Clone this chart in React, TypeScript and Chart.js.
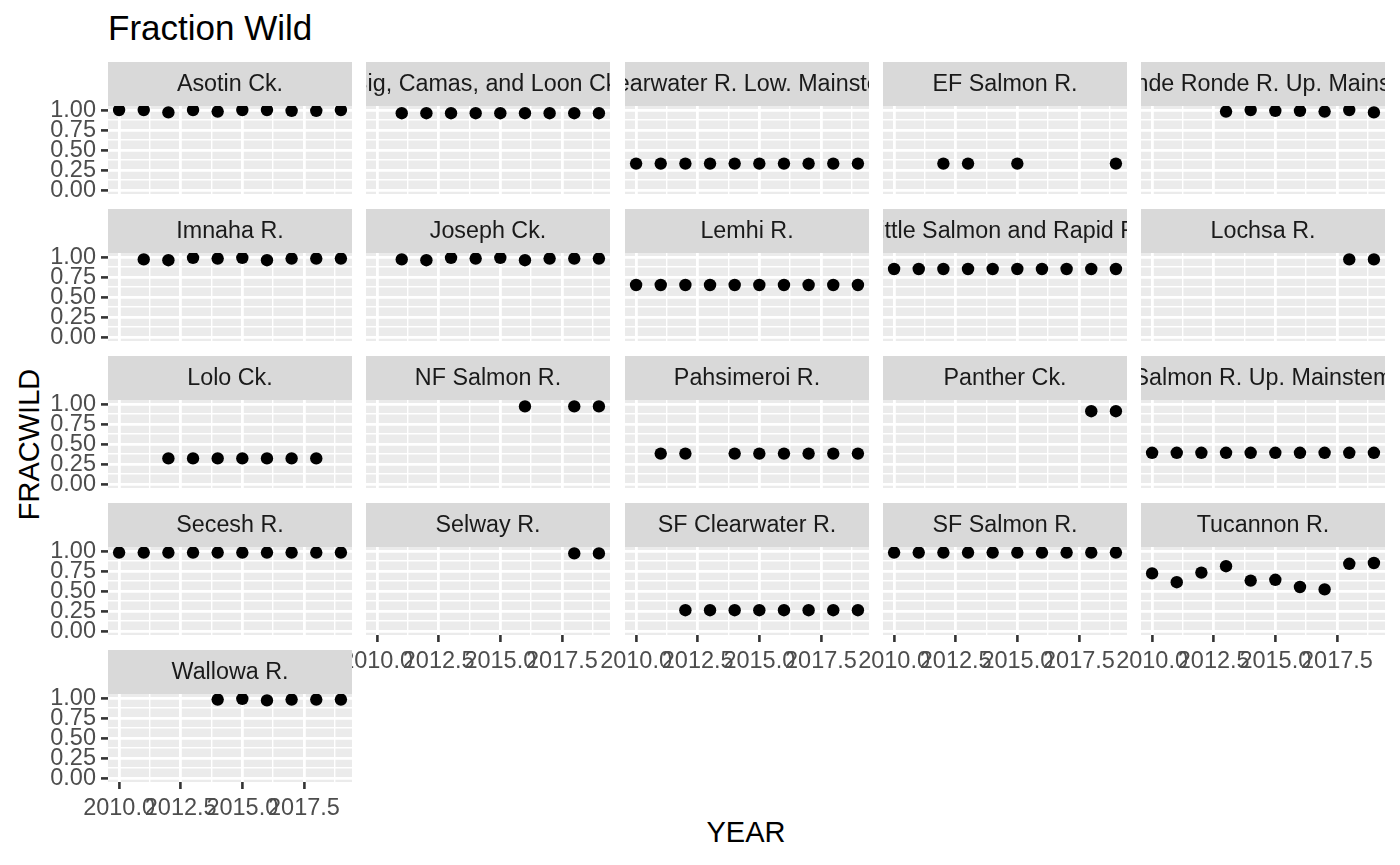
import React, { useEffect, useRef } from "react";
import { Chart, registerables } from "chart.js";

Chart.register(...registerables);

// ---------------- data ----------------
const TITLE = "Fraction Wild";
const X_LABEL = "YEAR";
const Y_LABEL = "FRACWILD";

const YEARS = [2010, 2011, 2012, 2013, 2014, 2015, 2016, 2017, 2018, 2019];
const X_MAJOR = [2010, 2012.5, 2015, 2017.5];
const X_MINOR = [2011.25, 2013.75, 2016.25, 2018.75];
const Y_MAJOR = [0, 0.25, 0.5, 0.75, 1];
const Y_MINOR = [0.125, 0.375, 0.625, 0.875];

const FACETS = [
  "Asotin Ck.",
  "Big, Camas, and Loon Ck.",
  "Clearwater R. Low. Mainstem",
  "EF Salmon R.",
  "Grande Ronde R. Up. Mainstem",
  "Imnaha R.",
  "Joseph Ck.",
  "Lemhi R.",
  "Little Salmon and Rapid R.",
  "Lochsa R.",
  "Lolo Ck.",
  "NF Salmon R.",
  "Pahsimeroi R.",
  "Panther Ck.",
  "Salmon R. Up. Mainstem",
  "Secesh R.",
  "Selway R.",
  "SF Clearwater R.",
  "SF Salmon R.",
  "Tucannon R.",
  "Wallowa R.",
];

// values by YEARS (null = no observation)
const asotin = [1.0, 1.0, 0.97, 1.0, 0.98, 1.0, 1.0, 0.99, 0.99, 1.0];
const bigCamasLoon = [null, 0.96, 0.96, 0.96, 0.96, 0.96, 0.96, 0.96, 0.96, 0.96];
const clearwaterLow = [0.33, 0.33, 0.33, 0.33, 0.33, 0.33, 0.33, 0.33, 0.33, 0.33];
const efSalmon = [null, null, 0.33, 0.33, null, 0.33, null, null, null, 0.33];
const grandeRonde = [null, null, null, 0.98, 1.0, 0.99, 0.99, 0.98, 1.0, 0.97];
const imnaha = [null, 0.97, 0.96, 0.99, 0.98, 0.99, 0.96, 0.98, 0.98, 0.98];
const joseph = [null, 0.97, 0.96, 0.99, 0.98, 0.99, 0.96, 0.98, 0.98, 0.98];
const lemhi = [0.65, 0.65, 0.65, 0.65, 0.65, 0.65, 0.65, 0.65, 0.65, 0.65];
const littleSalmonRapid = [0.85, 0.85, 0.85, 0.85, 0.85, 0.85, 0.85, 0.85, 0.85, 0.85];
const lochsa = [null, null, null, null, null, null, null, null, 0.97, 0.97];
const lolo = [null, null, 0.32, 0.32, 0.32, 0.32, 0.32, 0.32, 0.32, null];
const nfSalmon = [null, null, null, null, null, null, 0.97, null, 0.97, 0.97];
const pahsimeroi = [null, 0.38, 0.38, null, 0.38, 0.38, 0.38, 0.38, 0.38, 0.38];
const panther = [null, null, null, null, null, null, null, null, 0.91, 0.91];
const salmonUp = [0.39, 0.39, 0.39, 0.39, 0.39, 0.39, 0.39, 0.39, 0.39, 0.39];
const secesh = [0.98, 0.98, 0.98, 0.98, 0.98, 0.98, 0.98, 0.98, 0.98, 0.98];
const selway = [null, null, null, null, null, null, null, null, 0.97, 0.97];
const sfClearwater = [null, null, 0.26, 0.26, 0.26, 0.26, 0.26, 0.26, 0.26, 0.26];
const sfSalmon = [0.98, 0.98, 0.98, 0.98, 0.98, 0.98, 0.98, 0.98, 0.98, 0.98];
const tucannon = [0.72, 0.61, 0.73, 0.81, 0.63, 0.64, 0.55, 0.52, 0.84, 0.85];
const wallowa = [null, null, null, null, 0.98, 0.99, 0.97, 0.98, 0.98, 0.98];

const FACET_VALUES: (number | null)[][] = [
  asotin, bigCamasLoon, clearwaterLow, efSalmon, grandeRonde,
  imnaha, joseph, lemhi, littleSalmonRapid, lochsa,
  lolo, nfSalmon, pahsimeroi, panther, salmonUp,
  secesh, selway, sfClearwater, sfSalmon, tucannon,
  wallowa,
];

// ---------------- layout / style ----------------
const FONT = '"Liberation Sans", Arial, Helvetica, sans-serif';
const NCOL = 5;
const PANEL_X0 = 108;
const COL_PITCH = 258.3;
const ROW_Y0 = 62;
const ROW_PITCH = 147;
const PANEL_W = 244;
const PANEL_H = 88;
const STRIP_H = 44;
const X_MIN = 2009.55;
const X_MAX = 2019.45;
const Y_MIN = -0.05;
const Y_MAX = 1.05;

const isIn = (arr: number[], v: number) => arr.some((a) => Math.abs(a - v) < 1e-6);

const facetPlugin = {
  id: "facetPanel",
  beforeDraw(chart: any, _args: any, opts: any) {
    const { ctx, chartArea: a } = chart;
    const w = a.right - a.left;
    ctx.save();
    ctx.fillStyle = "#EBEBEB";
    ctx.fillRect(a.left, a.top, w, a.bottom - a.top);
    ctx.fillStyle = "#D9D9D9";
    ctx.fillRect(a.left, a.top - STRIP_H, w, STRIP_H);
    ctx.beginPath();
    ctx.rect(a.left, a.top - STRIP_H, w, STRIP_H);
    ctx.clip();
    ctx.fillStyle = "#1A1A1A";
    ctx.font = `23.3px ${FONT}`;
    ctx.textAlign = "center";
    ctx.textBaseline = "middle";
    ctx.fillText(opts.label, (a.left + a.right) / 2, a.top - STRIP_H / 2 + 1);
    ctx.restore();
  },
};

function Panel({ index }: { index: number }) {
  const ref = useRef<HTMLCanvasElement>(null);
  const r = Math.floor(index / NCOL);
  const c = index % NCOL;
  const isBottom = index + NCOL >= FACETS.length;
  const isLeft = c === 0;
  const panelLeft = PANEL_X0 + Math.round(c * COL_PITCH);
  const stripTop = ROW_Y0 + r * ROW_PITCH;
  const yw = isLeft ? 108 : 0;
  const padL = isLeft ? 0 : 40;
  const padR = 20;
  const xh = isBottom ? 45 : 0;
  const padB = isBottom ? 0 : 12;
  const left = panelLeft - yw - padL;
  const width = padL + yw + PANEL_W + padR;
  const height = STRIP_H + PANEL_H + xh + padB;

  useEffect(() => {
    if (!ref.current) return;
    const values = FACET_VALUES[index];
    const points = YEARS.map((yr, i) => ({ x: yr, y: values[i] })).filter(
      (p) => p.y !== null
    );
    const tickFont = { family: FONT, size: 23.5 };
    const chart = new Chart(ref.current, {
      type: "scatter",
      data: {
        datasets: [
          {
            data: points as any,
            backgroundColor: "#000000",
            borderColor: "#000000",
            borderWidth: 0,
            pointRadius: 6.2,
            pointHoverRadius: 6.2,
            clip: 0,
          },
        ],
      },
      options: {
        responsive: false,
        animation: false,
        devicePixelRatio: 1,
        events: [],
        layout: { padding: { left: padL, right: padR, top: STRIP_H, bottom: padB } },
        plugins: {
          legend: { display: false },
          tooltip: { enabled: false },
          title: { display: false },
          facetPanel: { label: FACETS[index] },
        } as any,
        scales: {
          x: {
            type: "linear",
            min: X_MIN,
            max: X_MAX,
            afterBuildTicks: (s: any) => {
              s.ticks = [...X_MAJOR, ...X_MINOR]
                .sort((a, b) => a - b)
                .map((v) => ({ value: v }));
            },
            afterFit: (s: any) => {
              s.height = xh;
              s.paddingLeft = 0;
              s.paddingRight = 0;
            },
            ticks: {
              display: isBottom,
              autoSkip: false,
              maxRotation: 0,
              minRotation: 0,
              padding: 5,
              color: "#4D4D4D",
              font: tickFont,
              callback: (v: any) => (isIn(X_MAJOR, Number(v)) ? Number(v).toFixed(1) : ""),
            },
            grid: {
              color: "#FFFFFF",
              lineWidth: (ctx: any) =>
                ctx.tick && isIn(X_MAJOR, ctx.tick.value) ? 2.8 : 1.4,
              drawTicks: isBottom,
              tickLength: 7,
              tickWidth: 2.6,
              tickColor: (ctx: any) =>
                ctx.tick && isIn(X_MAJOR, ctx.tick.value) ? "#333333" : "rgba(0,0,0,0)",
            },
            border: { display: false },
          },
          y: {
            type: "linear",
            position: "left",
            min: Y_MIN,
            max: Y_MAX,
            afterBuildTicks: (s: any) => {
              s.ticks = [...Y_MAJOR, ...Y_MINOR]
                .sort((a, b) => a - b)
                .map((v) => ({ value: v }));
            },
            afterFit: (s: any) => {
              s.width = yw;
              s.paddingTop = 0;
              s.paddingBottom = 0;
            },
            ticks: {
              display: isLeft,
              autoSkip: false,
              padding: 5,
              labelOffset: 1,
              color: "#4D4D4D",
              font: tickFont,
              callback: (v: any) => (isIn(Y_MAJOR, Number(v)) ? Number(v).toFixed(2) : ""),
            },
            grid: {
              color: "#FFFFFF",
              lineWidth: (ctx: any) =>
                ctx.tick && isIn(Y_MAJOR, ctx.tick.value) ? 2.8 : 1.4,
              drawTicks: isLeft,
              tickLength: 7,
              tickWidth: 2.6,
              tickColor: (ctx: any) =>
                ctx.tick && isIn(Y_MAJOR, ctx.tick.value) ? "#333333" : "rgba(0,0,0,0)",
            },
            border: { display: false },
          },
        },
      },
      plugins: [facetPlugin as any],
    });
    return () => chart.destroy();
  }, [index]);

  return (
    <canvas
      ref={ref}
      width={width}
      height={height}
      style={{
        position: "absolute",
        left,
        top: stripTop,
        width,
        height,
        display: "block",
      }}
    />
  );
}

export default function App() {
  return (
    <div
      style={{
        position: "absolute",
        left: 0,
        top: 0,
        width: 1400,
        height: 865,
        background: "#FFFFFF",
        overflow: "hidden",
        fontFamily: FONT,
      }}
    >
      <div
        style={{
          position: "absolute",
          left: 108,
          top: 10,
          fontSize: 35,
          lineHeight: "35px",
          color: "#000000",
          whiteSpace: "nowrap",
        }}
      >
        {TITLE}
      </div>
      <div
        style={{
          position: "absolute",
          left: 446,
          width: 600,
          top: 818,
          fontSize: 29,
          lineHeight: "29px",
          textAlign: "center",
          color: "#000000",
        }}
      >
        {X_LABEL}
      </div>
      <div
        style={{
          position: "absolute",
          left: 29 - 150,
          top: 444 - 14.5,
          width: 300,
          height: 29,
          fontSize: 29,
          lineHeight: "29px",
          textAlign: "center",
          color: "#000000",
          transform: "rotate(-90deg)",
          transformOrigin: "50% 50%",
        }}
      >
        {Y_LABEL}
      </div>
      {FACETS.map((_, i) => (
        <Panel key={i} index={i} />
      ))}
    </div>
  );
}
